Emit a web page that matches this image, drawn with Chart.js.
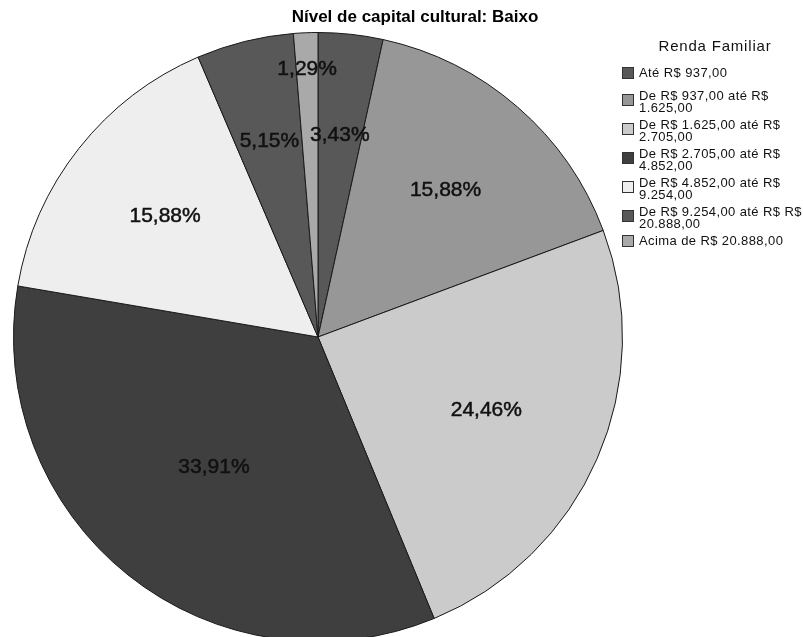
<!DOCTYPE html>
<html lang="pt-BR">
<head>
<meta charset="utf-8">
<title>Nível de capital cultural: Baixo</title>
<script src="https://cdn.jsdelivr.net/npm/chart.js@4/dist/chart.umd.min.js"></script>
<style>
  html, body { margin: 0; padding: 0; background: #fff; overflow: hidden; }
  #wrap { position: relative; width: 803px; height: 645px; }
</style>
</head>
<body>
<div id="wrap"><canvas id="pizzaRenda"></canvas></div>
<script>
// Faixas de renda familiar (uma linha por item da legenda)
const faixasRenda = [
  ['Até R$ 937,00'],
  ['De R$ 937,00 até R$', '1.625,00'],
  ['De R$ 1.625,00 até R$', '2.705,00'],
  ['De R$ 2.705,00 até R$', '4.852,00'],
  ['De R$ 4.852,00 até R$', '9.254,00'],
  ['De R$ 9.254,00 até R$ R$', '20.888,00'],
  ['Acima de R$ 20.888,00']
];
const percentuais = [3.43, 15.88, 24.46, 33.91, 15.88, 5.15, 1.29];
const tituloGrafico = 'Nível de capital cultural: Baixo';
const tituloLegenda = 'Renda Familiar';

const tonsCinza = ['#585858', '#979797', '#cbcbcb', '#3f3f3f', '#eeeeee', '#585858', '#a9a9a9'];
const fonte = '"Liberation Sans", Arial, sans-serif';

// Rótulos de porcentagem no centróide de cada fatia
const rotulosPlugin = {
  id: 'rotulos',
  afterDatasetsDraw(chart) {
    const ctx = chart.ctx;
    const arcs = chart.getDatasetMeta(0).data;
    ctx.save();
    ctx.font = '21px ' + fonte;
    ctx.fillStyle = '#111';
    ctx.strokeStyle = '#111';
    ctx.lineWidth = 0.5;
    ctx.textAlign = 'center';
    ctx.textBaseline = 'middle';
    const caixas = [];
    const sobrepoe = (a, b) => a.x1 < b.x2 && a.x2 > b.x1 && a.y1 < b.y2 && a.y2 > b.y1;
    arcs.forEach((arc, i) => {
      const { x, y, startAngle, endAngle, outerRadius } =
        arc.getProps(['x', 'y', 'startAngle', 'endAngle', 'outerRadius'], true);
      const meio = (startAngle + endAngle) / 2;
      const h = (endAngle - startAngle) / 2;
      const texto = percentuais[i].toFixed(2).replace('.', ',') + '%';
      const w = ctx.measureText(texto).width;
      const caixa = (r) => {
        const px = x + r * Math.cos(meio), py = y + r * Math.sin(meio);
        return { px, py, x1: px - w / 2, x2: px + w / 2, y1: py - 9, y2: py + 9 };
      };
      let c = caixa(outerRadius * (2 / 3) * Math.sin(h) / h);
      // fatias pequenas com rótulo encavalado vão para perto da borda
      if (caixas.some(b => sobrepoe(c, b))) c = caixa(outerRadius * 0.88);
      caixas.push(c);
      ctx.fillText(texto, c.px, c.py);
      ctx.strokeText(texto, c.px, c.py);
    });
    ctx.restore();
  }
};

// Título e legenda desenhados à mão (itens com duas linhas)
const legendaPlugin = {
  id: 'legendaRenda',
  afterDraw(chart) {
    const ctx = chart.ctx;
    ctx.save();
    ctx.fillStyle = '#000';
    ctx.textBaseline = 'middle';
    ctx.textAlign = 'center';
    ctx.font = 'bold 17px ' + fonte;
    ctx.fillText(tituloGrafico, 415, 17);

    ctx.font = '15px ' + fonte;
    ctx.letterSpacing = '0.8px';
    ctx.fillStyle = '#111';
    ctx.fillText(tituloLegenda, 715, 47);

    ctx.textAlign = 'left';
    ctx.font = '13px ' + fonte;
    ctx.letterSpacing = '0.4px';
    let y = 73;
    faixasRenda.forEach((linhas, i) => {
      const centro = linhas.length > 1 ? y + 4 : y;
      ctx.fillStyle = tonsCinza[i];
      ctx.fillRect(622, centro - 6, 12, 12);
      ctx.strokeStyle = '#333';
      ctx.lineWidth = 1;
      ctx.strokeRect(622.5, centro - 5.5, 11, 11);
      ctx.fillStyle = '#111';
      linhas.forEach((txt, k) => ctx.fillText(txt, 639, y + k * 12));
      y += i === 0 ? 23 : 29;
    });
    ctx.restore();
  }
};

document.addEventListener('DOMContentLoaded', () => {
  const canvas = document.getElementById('pizzaRenda');
  new Chart(canvas, {
    type: 'pie',
    data: {
      labels: faixasRenda,
      datasets: [{
        data: percentuais,
        backgroundColor: tonsCinza,
        borderColor: '#1a1a1a',
        borderWidth: 1
      }]
    },
    options: {
      responsive: true,
      maintainAspectRatio: false,
      animation: false,
      layout: { padding: { left: 13, top: 32, right: 180, bottom: 3 } },
      plugins: {
        legend: { display: false },
        title: { display: false },
        tooltip: { enabled: false }
      }
    },
    plugins: [rotulosPlugin, legendaPlugin]
  });
});
</script>
</body>
</html>
